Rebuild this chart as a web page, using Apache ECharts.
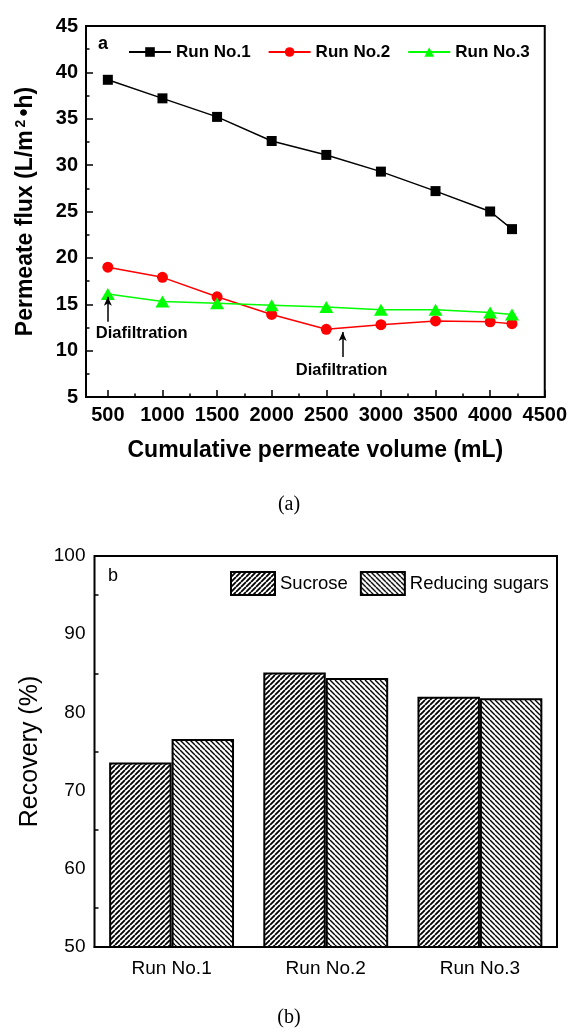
<!DOCTYPE html>
<html>
<head>
<meta charset="utf-8">
<script src="https://cdn.jsdelivr.net/npm/echarts@6/dist/echarts.min.js"></script>
<style>
html,body{margin:0;padding:0;background:#fff;}
#c{width:570px;height:1028px;}
</style>
</head>
<body>
<div id="c"></div>
<script>
// ---- data (a) ----
const volume = [500, 1000, 1500, 2000, 2500, 3000, 3500, 4000, 4200];
const run1 = [39.2, 37.2, 35.2, 32.6, 31.1, 29.3, 27.2, 25.0, 23.1];
const run2 = [19.0, 17.9, 15.8, 13.9, 12.3, 12.8, 13.2, 13.1, 12.9];
const run3 = [16.1, 15.3, 15.1, 14.9, 14.7, 14.4, 14.4, 14.1, 13.9];
const seriesNamesA = ['Run No.1', 'Run No.2', 'Run No.3'];
const volumeTicks = [500, 1000, 1500, 2000, 2500, 3000, 3500, 4000, 4500];
const volumeMinorTicks = [750, 1250, 1750, 2250, 2750, 3250, 3750, 4250];
// arrows: [x, yFrom, yTo]; notes: [x, y, text]
const arrows = [[500, 13.1, 15.8], [2650, 9.3, 12.0]];
const notes = [[810, 11.8, 'Diafiltration'], [2640, 7.9, 'Diafiltration']];

// ---- data (b) ----
const runs = ['Run No.1', 'Run No.2', 'Run No.3'];
const sucrose = [73.6, 85.1, 82.0];
const reducing = [76.6, 84.4, 81.8];

const SANS = "'Liberation Sans', Arial, Helvetica, sans-serif";
const SERIF = "'Liberation Serif', 'Times New Roman', serif";

function hatch(dir, lw) {
  const w = 5, h = 5;
  const c = document.createElement('canvas');
  c.width = w; c.height = h;
  const g = c.getContext('2d');
  g.fillStyle = '#fff'; g.fillRect(0, 0, w, h);
  g.strokeStyle = '#000'; g.lineWidth = lw;
  g.beginPath();
  for (let k = -1; k <= 1; k++) {
    if (dir > 0) { g.moveTo(k * w, h); g.lineTo(k * w + w, 0); }
    else { g.moveTo(k * w, 0); g.lineTo(k * w + w, h); }
  }
  g.stroke();
  return c;
}

const chart = echarts.init(document.getElementById('c'), null, {renderer: 'canvas'});

const pairs = arr => volume.map((v, i) => [v, arr[i]]);

const option = {
  animation: false,
  backgroundColor: '#fff',
  grid: [
    {left: 86, right: 23, top: 26, bottom: 631, show: true, borderColor: '#000', borderWidth: 2, backgroundColor: 'transparent'},
    {left: 94.5, right: 13, top: 556, bottom: 81, show: true, borderColor: '#000', borderWidth: 2, backgroundColor: 'transparent'}
  ],
  legend: [
    {
      data: seriesNamesA,
      left: 123, top: 38,
      itemWidth: 42, itemHeight: 12, itemGap: 17,
      textStyle: {fontFamily: SANS, fontWeight: 'bold', fontSize: 17, color: '#000', lineHeight: 18}
    },
    {
      data: ['Sucrose', 'Reducing sugars'],
      left: 225, top: 566,
      icon: 'rect',
      itemWidth: 44, itemHeight: 23, itemGap: 12,
      itemStyle: {borderColor: '#000', borderWidth: 2},
      textStyle: {fontFamily: SANS, fontSize: 18.5, color: '#000'}
    }
  ],
  xAxis: [
    {
      type: 'value', gridIndex: 0, min: 300, max: 4500,
      name: 'Cumulative permeate volume (mL)', nameLocation: 'middle', nameGap: 42,
      nameTextStyle: {fontFamily: SANS, fontWeight: 'bold', fontSize: 23, color: '#000'},
      axisLine: {lineStyle: {color: '#000', width: 2}},
      axisTick: {inside: true, length: 7, lineStyle: {color: '#000', width: 1.5}, customValues: volumeTicks},
      axisLabel: {customValues: volumeTicks, formatter: v => String(v), fontFamily: SANS, fontWeight: 'bold', fontSize: 20, color: '#000', margin: 8},
      splitLine: {show: false}
    },
    {
      type: 'value', gridIndex: 0, min: 300, max: 4500, position: 'bottom',
      axisLine: {show: false},
      axisTick: {inside: true, length: 3.5, lineStyle: {color: '#000', width: 1.5}, customValues: volumeMinorTicks},
      axisLabel: {show: false},
      splitLine: {show: false}
    },
    {
      type: 'category', gridIndex: 1, data: runs,
      axisLine: {lineStyle: {color: '#000', width: 2}},
      axisTick: {inside: true, length: 4, lineStyle: {color: '#000', width: 1.5}},
      axisLabel: {fontFamily: SANS, fontSize: 19, color: '#000', margin: 12},
      splitLine: {show: false}
    }
  ],
  yAxis: [
    {
      type: 'value', gridIndex: 0, min: 5, max: 45, interval: 5,
      name: 'Permeate flux (L/m{sup|2}•h)', nameLocation: 'middle', nameGap: 49,
      nameTextStyle: {fontFamily: SANS, fontWeight: 'bold', fontSize: 23, color: '#000',
        rich: {sup: {fontFamily: SANS, fontWeight: 'bold', fontSize: 14, color: '#000', verticalAlign: 'top', padding: [0, 3, 8, 3]}}},
      axisLine: {lineStyle: {color: '#000', width: 2}},
      axisTick: {inside: true, length: 7, lineStyle: {color: '#000', width: 1.5}},
      minorTick: {show: true, splitNumber: 2, length: 3.5, lineStyle: {color: '#000', width: 1.5}},
      axisLabel: {fontFamily: SANS, fontWeight: 'bold', fontSize: 20, color: '#000', margin: 8},
      splitLine: {show: false}
    },
    {
      type: 'value', gridIndex: 1, min: 50, max: 100, interval: 10,
      name: 'Recovery (%)', nameLocation: 'middle', nameGap: 48,
      nameTextStyle: {fontFamily: SANS, fontSize: 25, color: '#000'},
      axisLine: {lineStyle: {color: '#000', width: 2}},
      axisTick: {inside: true, length: 8, lineStyle: {color: '#000', width: 1.5}},
      minorTick: {show: true, splitNumber: 2, length: 4, lineStyle: {color: '#000', width: 1.5}},
      axisLabel: {fontFamily: SANS, fontSize: 19, color: '#000', margin: 9},
      splitLine: {show: false}
    }
  ],
  series: [
    {
      name: seriesNamesA[0], type: 'line', xAxisIndex: 0, yAxisIndex: 0,
      data: pairs(run1), symbol: 'rect', symbolSize: 10,
      itemStyle: {color: '#000'}, lineStyle: {color: '#000', width: 1.5},
      markLine: {
        silent: true, symbol: ['none', 'arrow'], symbolSize: [6, 9],
        lineStyle: {color: '#000', width: 1.5, type: 'solid'}, label: {show: false},
        data: arrows.map(a => [{coord: [a[0], a[1]]}, {coord: [a[0], a[2]]}])
      },
      markPoint: {
        silent: true, symbol: 'circle', symbolSize: 0,
        label: {show: true, position: 'inside', formatter: p => p.name,
          fontFamily: SANS, fontWeight: 'bold', fontSize: 16.5, color: '#000'},
        data: notes.map(n => ({name: n[2], coord: [n[0], n[1]]}))
      }
    },
    {
      name: seriesNamesA[1], type: 'line', xAxisIndex: 0, yAxisIndex: 0,
      data: pairs(run2), symbol: 'circle', symbolSize: 11,
      itemStyle: {color: '#ff0000'}, lineStyle: {color: '#ff0000', width: 1.5}
    },
    {
      name: seriesNamesA[2], type: 'line', xAxisIndex: 0, yAxisIndex: 0,
      data: pairs(run3), symbol: 'triangle', symbolSize: [14, 12],
      itemStyle: {color: '#00ff00'}, lineStyle: {color: '#00ff00', width: 1.5}
    },
    {
      name: 'Sucrose', type: 'bar', xAxisIndex: 2, yAxisIndex: 1,
      data: sucrose, barGap: '0%', barCategoryGap: '19%',
      itemStyle: {color: {image: hatch(1, 1.8), repeat: 'repeat'}, borderColor: '#000', borderWidth: 2}
    },
    {
      name: 'Reducing sugars', type: 'bar', xAxisIndex: 2, yAxisIndex: 1,
      data: reducing, barGap: '0%', barCategoryGap: '19%',
      itemStyle: {color: {image: hatch(-1, 1.4), repeat: 'repeat'}, borderColor: '#000', borderWidth: 2}
    }
  ],
  graphic: [
    {type: 'text', left: 98, top: 35, style: {text: 'a', font: 'bold 18px ' + SANS, fill: '#000'}},
    {type: 'text', left: 108, top: 567, style: {text: 'b', font: '18px ' + SANS, fill: '#000'}},
    {type: 'text', x: 289, y: 505, style: {text: '(a)', font: '20px ' + SERIF, fill: '#000', textAlign: 'center', textVerticalAlign: 'middle'}},
    {type: 'text', x: 289, y: 1018, style: {text: '(b)', font: '20px ' + SERIF, fill: '#000', textAlign: 'center', textVerticalAlign: 'middle'}}
  ]
};
chart.setOption(option);
</script>
</body>
</html>
